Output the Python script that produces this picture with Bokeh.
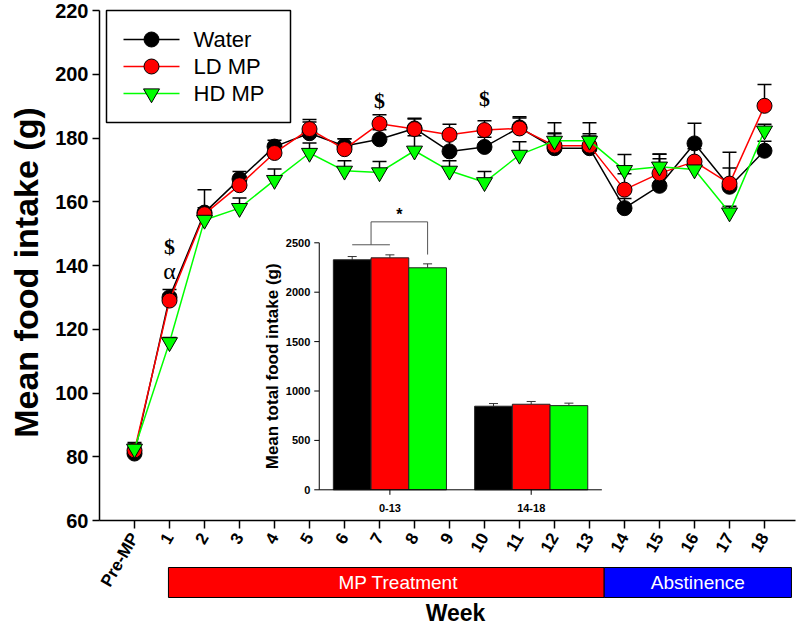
import math
from bokeh.plotting import figure
from bokeh.models import Range1d, FixedTicker, ColumnDataSource, Whisker, TeeHead
from bokeh.core.properties import value
from bokeh.embed import file_html
from bokeh.resources import INLINE

# ---------------- data ----------------
week_labels = ["Pre-MP"] + [str(i) for i in range(1, 19)]
weeks = list(range(19))

water = [81.0, 130.0, 156.6, 167.1, 177.3, 181.5, 177.5, 179.6, 183.0, 175.8,
         177.2, 183.3, 176.8, 176.8, 158.0, 165.0, 178.3, 164.7, 176.0]
water_err = [2.5, 2.5, 7.2, 2.4, 2.0, 3.5, 2.3, 3.0, 3.0, 4.0,
             3.0, 3.0, 8.0, 8.0, 3.0, 8.5, 6.3, 5.9, 3.0]
ld = [82.0, 129.0, 156.1, 165.2, 175.3, 182.8, 176.5, 184.5, 182.8, 181.0,
      182.5, 183.0, 177.6, 177.6, 163.8, 168.9, 172.6, 165.7, 190.1]
ld_err = [2.0, 2.0, 2.0, 2.0, 2.0, 3.0, 3.3, 2.8, 3.4, 3.3,
          2.9, 3.7, 4.0, 3.0, 5.0, 6.0, 4.0, 9.8, 6.7]
hd = [82.5, 115.9, 154.3, 158.0, 166.8, 175.3, 169.7, 169.2, 176.0, 169.7,
      166.1, 174.7, 179.1, 179.1, 169.9, 171.0, 170.1, 156.6, 182.3]
hd_err = [2.0, 1.5, 1.5, 3.2, 3.5, 3.1, 3.2, 3.4, 4.7, 3.2,
          3.4, 4.1, 2.2, 2.2, 4.9, 4.0, 2.0, 2.0, 2.0]

y_ticks = [60, 80, 100, 120, 140, 160, 180, 200, 220]

sig_weeks = [1, 7, 10]
sig_text = ["$", "$", "$"]
sig_y = [146.0, 191.8, 192.4]
alpha_weeks = [1]
alpha_text = ["\u03b1"]
alpha_y = [138.2]

phase_names = ["MP Treatment", "Abstinence"]
phase_start = [0.97, 13.42]
phase_end = [13.42, 18.77]
phase_colors = ["#ff0000", "#0000ff"]

bar_groups = ["0-13", "14-18"]
bar_water = [2328, 846]
bar_water_err = [33, 27]
bar_ld = [2348, 866]
bar_ld_err = [30, 28]
bar_hd = [2247, 852]
bar_hd_err = [40, 25]
inset_ticks = [0, 500, 1000, 1500, 2000, 2500]

# ---------------- layout constants (canvas pixels) ----------------
W, H = 800, 625
X0_PX, X_STEP = 134.0, 35.0          # pixel of week 0 and pixels per week
Y60_PX, Y220_PX = 520.0, 10.0        # pixel rows of 60 g and 220 g
Y_SCALE = (Y60_PX - Y220_PX) / 160.0

def xd(px):
    return (px - X0_PX) / X_STEP

def yv(px):
    return 60 + (Y60_PX - px) / Y_SCALE

p = figure(width=W, height=H,
           x_range=Range1d(xd(0), xd(W)),
           y_range=Range1d(yv(H), yv(0)),
           output_backend="svg", toolbar_location=None, title=None,
           min_border_left=0, min_border_right=0,
           min_border_top=0, min_border_bottom=0)
p.xgrid.visible = False
p.ygrid.visible = False
p.outline_line_color = None
p.background_fill_color = "white"

FONT = "Liberation Sans"

# x axis at y = 60
xa = p.xaxis[0]
xa.ticker = FixedTicker(ticks=weeks)
xa.major_label_overrides = {w: lab for w, lab in zip(weeks, week_labels)}
xa.fixed_location = 60
xa.bounds = (xd(99), xd(795))
xa.major_label_orientation = math.radians(60)
xa.major_label_text_font = FONT
xa.major_label_text_font_style = "bold"
xa.major_label_text_font_size = "17px"
xa.major_label_text_color = "black"
xa.major_tick_out = 8
xa.major_tick_in = 0
xa.minor_tick_out = 0
xa.minor_tick_in = 0
xa.axis_line_width = 1.5
xa.major_tick_line_width = 1.5
xa.major_label_standoff = 6

# y axis at the left edge of the plotting area
ya = p.yaxis[0]
ya.ticker = FixedTicker(ticks=y_ticks)
ya.fixed_location = xd(99)
ya.bounds = (60, 220)
ya.major_label_text_font = FONT
ya.major_label_text_font_style = "bold"
ya.major_label_text_font_size = "20px"
ya.major_label_text_color = "black"
ya.major_tick_out = 7
ya.major_tick_in = 0
ya.minor_tick_out = 0
ya.minor_tick_in = 0
ya.axis_line_width = 1.5
ya.major_tick_line_width = 1.5
ya.major_label_standoff = 4

p.text(x=[xd(25)], y=[yv(272)], text=["Mean food intake (g)"], angle=math.pi / 2,
       text_align="center", text_baseline="middle", text_font=value(FONT),
       text_font_style="bold", text_font_size="34px", text_color="black")
p.text(x=[xd(455)], y=[yv(612)], text=["Week"], text_align="center",
       text_baseline="middle", text_font=value(FONT), text_font_style="bold",
       text_font_size="23px", text_color="black")

# phase band
p.quad(left=phase_start, right=phase_end, bottom=yv(597), top=yv(567),
       fill_color=phase_colors, line_color="black", line_width=1)
p.text(x=[(a + b) / 2 for a, b in zip(phase_start, phase_end)], y=yv(582),
       text=phase_names, x_offset=[12, 0], text_color="white", text_align="center",
       text_baseline="middle", text_font=value(FONT), text_font_size="19px")

# ---------------- inset (bar chart) ----------------
IX0_PX, IX_STEP = 389.4, 141.3
IY0_PX = 489.3
IY_SCALE = (489.3 - 242.3) / 2500.0
p.extra_x_ranges = {"ix": Range1d((0 - IX0_PX) / IX_STEP, (W - IX0_PX) / IX_STEP)}
p.extra_y_ranges = {"iy": Range1d(-(H - IY0_PX) / IY_SCALE, IY0_PX / IY_SCALE)}
IR = dict(x_range_name="ix", y_range_name="iy")

gx = list(range(len(bar_groups)))
bw = 37.7 / IX_STEP
for k, (vals, errs, col) in enumerate([(bar_water, bar_water_err, "black"),
                                       (bar_ld, bar_ld_err, "#ff0000"),
                                       (bar_hd, bar_hd_err, "#00ff00")]):
    xs = [g + (k - 1) * bw for g in gx]
    bsrc = ColumnDataSource(dict(x=xs, top=vals, up=[v + e for v, e in zip(vals, errs)]))
    p.add_layout(Whisker(source=bsrc, base="x", lower="top", upper="up", dimension="height",
                         lower_head=None,
                         upper_head=TeeHead(size=9, line_color="#333333", line_width=1),
                         line_color="#333333", line_width=1, **IR))
    p.vbar(x="x", top="top", bottom=0, width=bw, source=bsrc, fill_color=col,
           line_color="#222222", line_width=1, **IR)

ax_x = gx[0] - 0.5
ax_x_end = gx[-1] + 0.5
p.segment(x0=[ax_x, ax_x], y0=[0, 0], x1=[ax_x, ax_x_end], y1=[inset_ticks[-1], 0],
          line_color="black", line_width=1, **IR)
p.segment(x0=ax_x, x1=ax_x - 5 / IX_STEP, y0=inset_ticks, y1=inset_ticks,
          line_color="black", line_width=1, **IR)
p.segment(x0=gx, x1=gx, y0=0, y1=-5 / IY_SCALE, line_color="black", line_width=1, **IR)
p.text(x=ax_x, y=inset_ticks, text=[str(t) for t in inset_ticks], x_offset=-9,
       text_align="right", text_baseline="middle", text_font=value(FONT),
       text_font_style="bold", text_font_size="11px", text_color="black", **IR)
p.text(x=gx, y=0, text=bar_groups, y_offset=18, text_align="center",
       text_baseline="middle", text_font=value(FONT), text_font_style="bold",
       text_font_size="11px", text_color="black", **IR)
p.text(x=[ax_x], y=[inset_ticks[-1] / 2], text=["Mean total food intake (g)"], x_offset=-47,
       angle=math.pi / 2, text_align="center", text_baseline="middle",
       text_font=value(FONT), text_font_style="bold", text_font_size="17px",
       text_color="black", **IR)

# significance bracket
xw, xl, xh = -bw, 0.0, bw
mid = (xw + xl) / 2
p.multi_line(xs=[[xw, xl], [mid, mid, xh, xh]], ys=[[2480, 2480], [2480, 2712, 2712, 2381]],
             line_color="#555555", line_width=1, **IR)
p.text(x=[(mid + xh) / 2], y=[2790], text=["*"], text_align="center", text_baseline="middle",
       text_font=value(FONT), text_font_style="bold", text_font_size="16px",
       text_color="black", **IR)

# ---------------- main series ----------------
series = [("Water", water, water_err, "black", "black", "circle", 15),
          ("LD MP", ld, ld_err, "#ff0000", "#ff0000", "circle", 15),
          ("HD MP", hd, hd_err, "#00ff00", "#00ff00", "inverted_triangle", 16)]

for name, vals, errs, lc, fc, mk, sz in series:
    src = ColumnDataSource(dict(x=weeks, y=vals, yu=[v + e for v, e in zip(vals, errs)]))
    p.add_layout(Whisker(source=src, base="x", lower="y", upper="yu", dimension="height",
                         lower_head=None,
                         upper_head=TeeHead(size=14, line_color="black", line_width=1.5),
                         line_color="black", line_width=1.5))

for name, vals, errs, lc, fc, mk, sz in series:
    src = ColumnDataSource(dict(x=weeks, y=vals))
    p.line("x", "y", source=src, line_color=lc, line_width=1.5)
    p.scatter("x", "y", source=src, marker=mk, size=sz, fill_color=fc,
              line_color="black", line_width=1)

p.text(x=sig_weeks, y=sig_y, text=sig_text, text_align="center", text_baseline="middle",
       text_font=value("Liberation Serif"), text_font_style="bold", text_font_size="22px",
       text_color="black")
p.text(x=alpha_weeks, y=alpha_y, text=alpha_text, text_align="center", text_baseline="middle",
       text_font=value("Liberation Serif"), text_font_size="24px", text_color="black")

# ---------------- legend (drawn box) ----------------
LEG_L, LEG_R, LEG_T, LEG_B = 106, 290, 10, 122
LEG_ROW0, LEG_PITCH = 39, 27
p.quad(left=[xd(LEG_L)], right=[xd(LEG_R)], top=[yv(LEG_T)], bottom=[yv(LEG_B)],
       fill_color="white", line_color="black", line_width=1.5)
for i, (name, vals, errs, lc, fc, mk, sz) in enumerate(series):
    row = yv(LEG_ROW0 + i * LEG_PITCH)
    p.segment(x0=[xd(123)], x1=[xd(179)], y0=[row], y1=[row], line_color=lc, line_width=1.5)
    p.scatter(x=[xd(151)], y=[row], marker=mk, size=sz, fill_color=fc,
              line_color="black", line_width=1)
    p.text(x=[xd(193)], y=[row], text=[name], text_align="left", text_baseline="middle",
           text_font=value(FONT), text_font_size="22px", text_color="black")

open("out.html", "w").write(file_html(p, INLINE))
